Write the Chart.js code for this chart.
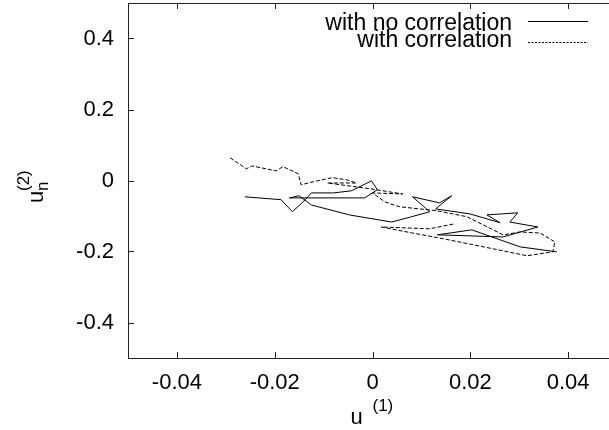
<!DOCTYPE html>
<html lang="en">
<head>
    <meta charset="UTF-8">
    <title>u(1) vs u(2)</title>
    <script src="https://cdn.jsdelivr.net/npm/chart.js"></script>
    <style>
        html, body { margin: 0; padding: 0; overflow: hidden; background: #fff; }
    </style>
</head>
<body>
    <canvas id="trajChart" width="640" height="430"></canvas>

    <script>
        // tick positions on each axis
        const xTicks = [-0.04, -0.02, 0, 0.02, 0.04];
        const yTicks = [-0.4, -0.2, 0, 0.2, 0.4];

        // "with no correlation" trajectory
        const noCorrX = [-0.0261, -0.0187, -0.0164, -0.0144, -0.0125, -0.0080, -0.0043, -0.0002, 0.0010, -0.0016,
                         -0.0170, -0.0150, -0.0125, -0.0047, 0.0039, 0.0080, 0.0117, 0.0082, 0.0137, 0.0162,
                         0.0129, 0.0199, 0.0261, 0.0234, 0.0297, 0.0281, 0.0338, 0.0267, 0.0133, 0.0203,
                         0.0302, 0.0377];
        const noCorrY = [-0.046, -0.054, -0.088, -0.063, -0.035, -0.035, -0.029, -0.001, -0.026, -0.049,
                         -0.049, -0.043, -0.069, -0.097, -0.117, -0.102, -0.088, -0.046, -0.063, -0.043,
                         -0.080, -0.094, -0.119, -0.097, -0.091, -0.117, -0.131, -0.159, -0.153, -0.139,
                         -0.187, -0.201];

        // "with correlation" trajectory
        const corrX = [-0.0291, -0.0258, -0.0246, -0.0197, -0.0183, -0.0152, -0.0146, -0.0113, -0.0082, -0.0053,
                       -0.0033, -0.0092, -0.0006, 0.0062, 0.0000, 0.0025, 0.0055, 0.0131, 0.0193, 0.0267,
                       0.0302, 0.0343, 0.0373, 0.0369, 0.0316, 0.0199, 0.0137, 0.0082, 0.0018, 0.0117,
                       0.0168];
        const corrY = [0.064, 0.033, 0.041, 0.027, 0.039, 0.019, -0.012, -0.001, 0.008, 0.002,
                       -0.007, -0.007, -0.023, -0.038, -0.035, -0.060, -0.074, -0.085, -0.102, -0.153,
                       -0.145, -0.148, -0.173, -0.201, -0.212, -0.179, -0.162, -0.148, -0.131, -0.136,
                       -0.122];

        const seriesNames = ['with no correlation', 'with correlation'];

        const FONT = '"Liberation Sans", Arial, Helvetica, sans-serif';
        const toPoints = (xs, ys) => xs.map((x, i) => ({ x: x, y: ys[i] }));

        // gnuplot-like frame: box, inside ticks, right-aligned legend, axis titles with sub/superscripts
        const framePlugin = {
            id: 'frame',
            afterDraw(chart) {
                const ctx = chart.ctx;
                const a = chart.chartArea;
                const xs = chart.scales.x, ys = chart.scales.y;
                ctx.save();
                ctx.strokeStyle = '#222';
                ctx.lineWidth = 1;
                ctx.strokeRect(Math.round(a.left) + 0.5, Math.round(a.top) + 0.5,
                               Math.round(a.right - a.left), Math.round(a.bottom - a.top));
                ctx.beginPath();
                xs.ticks.forEach(t => {
                    const px = Math.round(xs.getPixelForValue(t.value)) + 0.5;
                    ctx.moveTo(px, a.bottom); ctx.lineTo(px, a.bottom - 6);
                    ctx.moveTo(px, a.top); ctx.lineTo(px, a.top + 6);
                });
                ys.ticks.forEach(t => {
                    const py = Math.round(ys.getPixelForValue(t.value)) + 0.5;
                    ctx.moveTo(a.left, py); ctx.lineTo(a.left + 6, py);
                    ctx.moveTo(a.right, py); ctx.lineTo(a.right - 6, py);
                });
                ctx.stroke();

                // legend
                ctx.fillStyle = '#000';
                ctx.textAlign = 'right';
                ctx.textBaseline = 'alphabetic';
                ctx.font = '23px ' + FONT;
                const rows = [{ y: 30, line: 21 }, { y: 47, line: 42 }];
                chart.data.datasets.forEach((ds, i) => {
                    ctx.fillText(ds.label, 512, rows[i].y);
                    ctx.beginPath();
                    ctx.setLineDash(i === 0 ? [] : [2, 1.5]);
                    ctx.strokeStyle = '#000';
                    ctx.moveTo(528, rows[i].line + 0.5);
                    ctx.lineTo(588, rows[i].line + 0.5);
                    ctx.stroke();
                });
                ctx.setLineDash([]);

                // x title: u^(1)
                ctx.textAlign = 'left';
                ctx.font = '22px ' + FONT;
                const xc = (a.left + a.right) / 2;
                ctx.fillText('u', xc - 22, 424);
                ctx.font = '17px ' + FONT;
                ctx.fillText('(1)', xc, 411);

                // y title: u_n^(2), rotated
                ctx.translate(43, 203);
                ctx.rotate(-Math.PI / 2);
                ctx.font = '22px ' + FONT;
                ctx.fillText('u', 0, 0);
                ctx.font = '17px ' + FONT;
                ctx.fillText('n', 12, 5);
                ctx.fillText('(2)', 12, -14);
                ctx.restore();
            }
        };

        const ctx = document.getElementById('trajChart').getContext('2d');
        new Chart(ctx, {
            type: 'scatter',
            data: {
                datasets: [{
                    label: seriesNames[0],
                    data: toPoints(noCorrX, noCorrY),
                    showLine: true,
                    borderColor: '#000',
                    borderWidth: 1,
                    pointRadius: 0,
                    tension: 0
                }, {
                    label: seriesNames[1],
                    data: toPoints(corrX, corrY),
                    showLine: true,
                    borderColor: '#000',
                    borderWidth: 1,
                    borderDash: [4, 2],
                    pointRadius: 0,
                    tension: 0
                }]
            },
            options: {
                responsive: false,
                animation: false,
                layout: { padding: { top: 3, right: 23, left: 0, bottom: 0 } },
                plugins: {
                    legend: { display: false },
                    tooltip: { enabled: false }
                },
                scales: {
                    x: {
                        type: 'linear',
                        min: -0.05,
                        max: 0.05,
                        afterBuildTicks: s => { s.ticks = xTicks.map(v => ({ value: v })); },
                        afterFit: s => { s.height = 72; s.paddingLeft = 0; s.paddingRight = 0; },
                        grid: { display: false, drawTicks: false },
                        border: { display: false },
                        ticks: {
                            color: '#000',
                            padding: 12,
                            maxRotation: 0,
                            font: { family: FONT, size: 22 },
                            callback: v => String(v)
                        }
                    },
                    y: {
                        type: 'linear',
                        min: -0.5,
                        max: 0.5,
                        afterBuildTicks: s => { s.ticks = yTicks.map(v => ({ value: v })); },
                        afterFit: s => { s.width = 128; s.paddingTop = 0; s.paddingBottom = 0; },
                        grid: { display: false, drawTicks: false },
                        border: { display: false },
                        ticks: {
                            color: '#000',
                            padding: 14,
                            font: { family: FONT, size: 22 },
                            callback: v => String(v)
                        }
                    }
                }
            },
            plugins: [framePlugin]
        });
    </script>
</body>
</html>
